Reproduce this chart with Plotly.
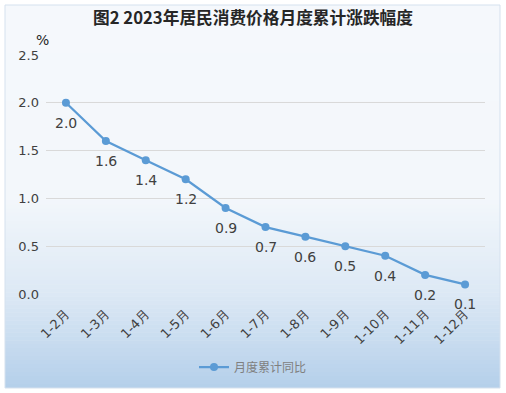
import plotly.graph_objects as go

categories = ["1-2月", "1-3月", "1-4月", "1-5月", "1-6月", "1-7月",
              "1-8月", "1-9月", "1-10月", "1-11月", "1-12月"]
values = [2.0, 1.6, 1.4, 1.2, 0.9, 0.7, 0.6, 0.5, 0.4, 0.2, 0.1]
y_ticks = [0.0, 0.5, 1.0, 1.5, 2.0, 2.5]
series_name = "月度累计同比"
title_text = "图2 2023年居民消费价格月度累计涨跌幅度"

W, H = 506, 393
L, R, T, B = 46, 21, 55, 99
PW, PH = W - L - R, H - T - B


def px_x(px):
    return (px - L) / PW


def px_y(py):
    return (H - B - py) / PH


def lerp(c1, c2, t):
    return tuple(int(round(a + (b - a) * t)) for a, b in zip(c1, c2))


stops = [(0.0, (245, 248, 252)), (0.50, (243, 247, 251)), (0.75, (221, 233, 245)), (1.0, (180, 207, 234))]


def grad(t):
    for (t0, c0), (t1, c1) in zip(stops[:-1], stops[1:]):
        if t <= t1:
            return lerp(c0, c1, (t - t0) / (t1 - t0) if t1 > t0 else 0)
    return stops[-1][1]


shapes = []
top, bot = 5, 388
n = 96
step = (bot - top) / n
for i in range(n):
    y0 = top + i * step
    y1 = y0 + step + 0.6
    c = grad((i + 0.5) / n)
    shapes.append(dict(type="rect", xref="paper", yref="paper",
                       x0=px_x(5), x1=px_x(500), y0=px_y(min(y1, bot)), y1=px_y(y0),
                       fillcolor="rgb(%d,%d,%d)" % c, line=dict(width=0), layer="below"))
shapes.append(dict(type="rect", xref="paper", yref="paper",
                   x0=px_x(5), x1=px_x(500), y0=px_y(bot), y1=px_y(top),
                   fillcolor="rgba(0,0,0,0)", line=dict(color="#d5e1ee", width=1), layer="below"))

fig = go.Figure()
fig.add_trace(go.Scatter(
    x=categories, y=values, mode="lines+markers", name=series_name,
    line=dict(color="#5b9bd5", width=2.25),
    marker=dict(color="#5b9bd5", size=8),
    cliponaxis=False,
))

annotations = [dict(x=c, y=v, xref="x", yref="y", text="%.1f" % v, showarrow=False,
                    xanchor="center", yanchor="middle", yshift=-20,
                    font=dict(family="DejaVu Sans", size=14, color="#404040"))
               for c, v in zip(categories, values)]
annotations.append(dict(text="%", xref="paper", yref="paper", x=px_x(42), y=px_y(40),
                        xanchor="center", yanchor="middle", showarrow=False,
                        font=dict(family="DejaVu Sans", size=14, color="#262626")))

fig.update_layout(
    width=W, height=H,
    margin=dict(l=L, r=R, t=T, b=B, autoexpand=False),
    paper_bgcolor="white", plot_bgcolor="rgba(0,0,0,0)",
    shapes=shapes,
    title=dict(text="<b>" + title_text + "</b>", x=0.5, xanchor="center",
               y=1 - 18 / H, yanchor="middle",
               font=dict(family="Noto Sans CJK SC", size=16.7, color="#262626")),
    xaxis=dict(type="category", range=[-0.5, len(categories) - 0.5],
               tickangle=-45, showgrid=False, showline=False,
               ticks="", automargin=False, ticklabelstandoff=9,
               tickfont=dict(family="DejaVu Sans", size=13, color="#404040")),
    yaxis=dict(range=[0, 2.5], tickvals=y_ticks, ticktext=["%.1f" % v for v in y_ticks],
               showgrid=True, gridcolor="#d9d9d9", gridwidth=1, zeroline=False,
               showline=False, ticks="", ticklabelstandoff=6, automargin=False,
               tickfont=dict(family="DejaVu Sans", size=13, color="#404040")),
    showlegend=True,
    legend=dict(orientation="h", x=px_x(253), xanchor="center", y=px_y(367), yanchor="middle",
                bgcolor="rgba(0,0,0,0)",
                font=dict(family="Noto Sans CJK SC", size=12, color="#7f7f7f")),
    annotations=annotations,
)

fig.write_html("out.html", config={"displayModeBar": False},
               post_script="document.body.style.margin='0';document.body.style.overflow='hidden';")
